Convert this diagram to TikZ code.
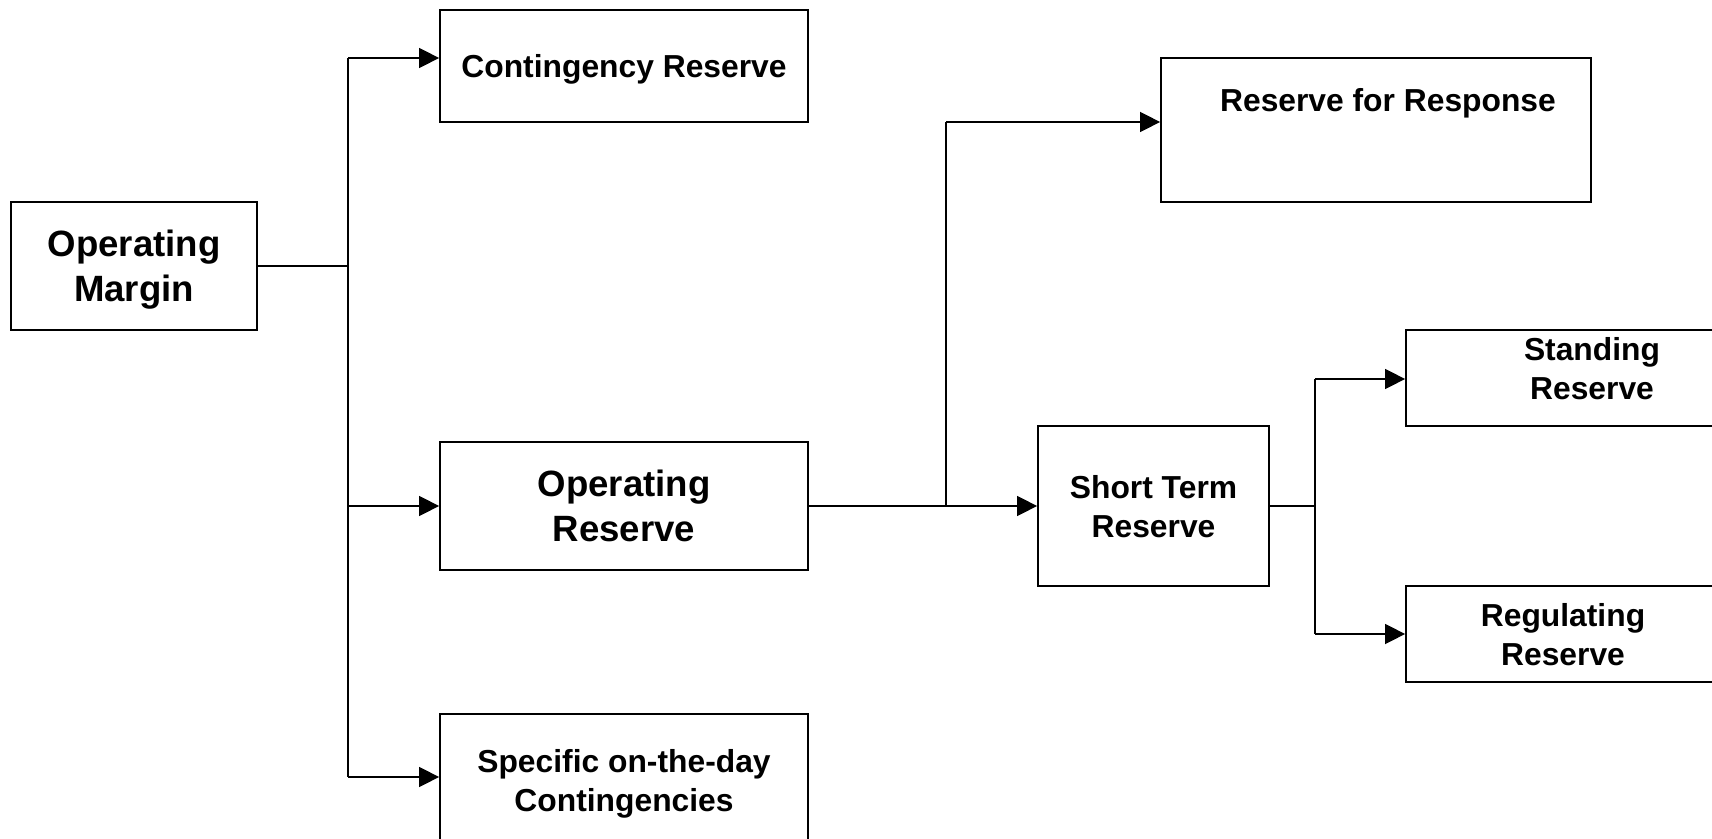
\documentclass[tikz,border=0pt]{standalone}
\usepackage{fontspec}
\setmainfont{Liberation Sans}
\usetikzlibrary{arrows.meta,positioning}

\begin{document}
\begin{tikzpicture}[x=0.5pt,y=-0.5pt,
    box/.style={draw,line width=0.9pt,rectangle,align=center,inner sep=0pt,
      text depth=0pt,font=\bfseries\fontsize{15.9}{19.5}\selectfont},
    bigbox/.style={box,font=\bfseries\fontsize{18.3}{22.4}\selectfont},
    link/.style={line width=0.75pt},
    arr/.style={link,-{Triangle[length=10pt,width=10pt]}}]
      \useasboundingbox (0,0) rectangle (1712,839);
      \clip (0,0) rectangle (1712,839);

      \node[bigbox,minimum width=123pt,minimum height=64pt] (om) at (134,266)
        {Operating\\Margin};
      \node[box,minimum width=184pt,minimum height=56pt] (cr) at (624,66)
        {Contingency Reserve};
      \node[bigbox,minimum width=184pt,minimum height=64pt] (or) at (624,506)
        {Operating\\Reserve};
      \node[box,minimum width=184pt,minimum height=66pt] (sod) at (624,780)
        {Specific on-the-day\\Contingencies};
      \node[box,minimum width=215pt,minimum height=72pt,text height=11.5pt,
        text depth=29.5pt] (rfr) at (1376,130)
        {\hspace*{12pt}Reserve for Response};
      \node[box,minimum width=115.5pt,minimum height=80pt] (str) at (1153.5,506)
        {Short Term\\Reserve};
      \node[box,minimum width=186pt,minimum height=48pt,text depth=10pt] (sr)
        at (1592,378) {Standing\\Reserve};
      \node[box,minimum width=157pt,minimum height=48pt] (rr) at (1563,634)
        {Regulating\\Reserve};

      \coordinate (omj) at (348,266);
      \coordinate (crj) at (348,58);
      \coordinate (orj) at (348,506);
      \coordinate (sodj) at (348,777);
      \draw[link] (om.east) -- (omj);
      \draw[link] (crj) -- (sodj);
      \draw[arr] (crj) -- (crj -| cr.west);
      \draw[arr] (orj) -- (or.west);
      \draw[arr] (sodj) -- (sodj -| sod.west);

      \coordinate (rfrj) at (946,122);
      \draw[arr] (or.east) -- (str.west);
      \draw[link] (rfrj |- or.east) -- (rfrj);
      \draw[arr] (rfrj) -- (rfrj -| rfr.west);

      \coordinate (strj) at (1315,506);
      \coordinate (srj) at (1315,379);
      \coordinate (rrj) at (1315,634);
      \draw[link] (str.east) -- (strj);
      \draw[link] (srj) -- (rrj);
      \draw[arr] (srj) -- (srj -| sr.west);
      \draw[arr] (rrj) -- (rrj -| rr.west);
\end{tikzpicture}
\end{document}
